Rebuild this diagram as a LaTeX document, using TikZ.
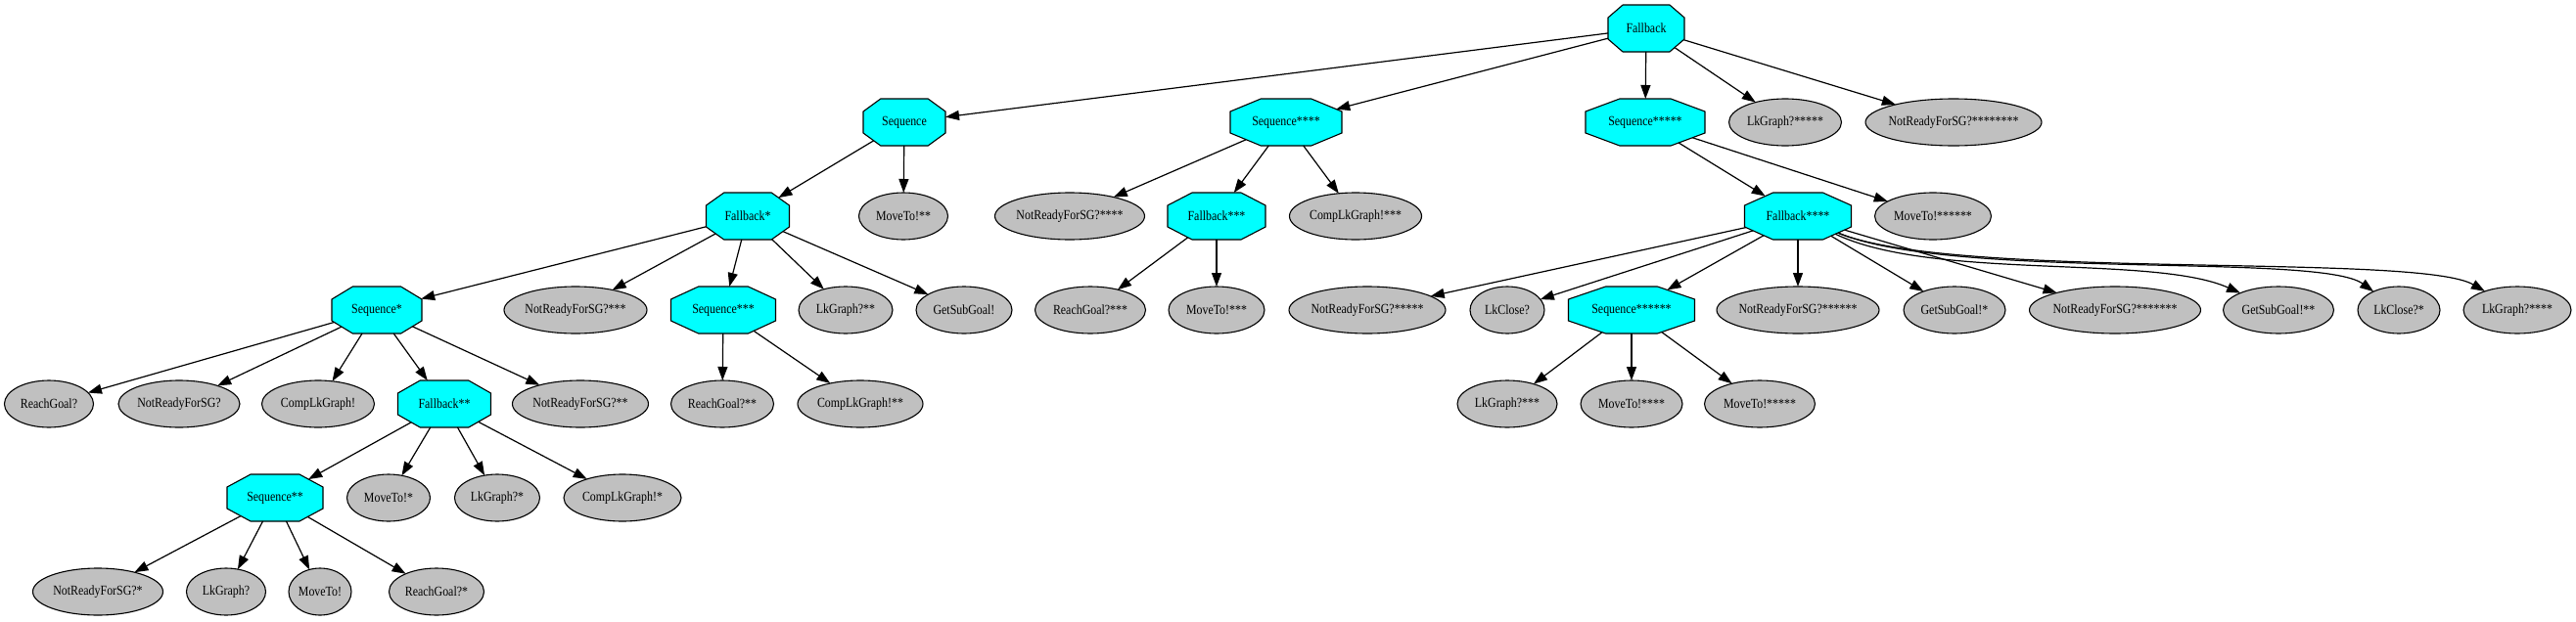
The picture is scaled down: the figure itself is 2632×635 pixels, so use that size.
\documentclass[tikz,border=0pt]{standalone}
\usepackage{fontspec}
\setmainfont{Liberation Serif}[FakeStretch=0.85]
\usetikzlibrary{shapes.geometric,arrows.meta}
\makeatletter
\pgfkeys{/pgf/gvoct cutx/.initial=14pt,/pgf/gvoct cuty/.initial=13pt}
\pgfdeclareshape{gvoct}{%
  \savedanchor\northeast{%
    \pgfmathsetlength\pgf@x{.5*\pgfkeysvalueof{/pgf/minimum width}}%
    \pgfmathsetlength\pgf@y{.5*\pgfkeysvalueof{/pgf/minimum height}}%
  }%
  \savedanchor\cutpt{%
    \pgfmathsetlength\pgf@x{\pgfkeysvalueof{/pgf/gvoct cutx}}%
    \pgfmathsetlength\pgf@y{\pgfkeysvalueof{/pgf/gvoct cuty}}%
  }%
  \anchor{center}{\pgfpointorigin}%
  \anchor{text}{%
    \pgf@x=-.5\wd\pgfnodeparttextbox
    \pgf@y=-.5\ht\pgfnodeparttextbox
    \advance\pgf@y by .5\dp\pgfnodeparttextbox
  }%
  \backgroundpath{%
    \northeast \edef\gvxa{\the\pgf@x}\edef\gvya{\the\pgf@y}%
    \pgf@xa=\pgf@x \pgf@ya=\pgf@y
    \cutpt \advance\pgf@xa by-\pgf@x \advance\pgf@ya by-\pgf@y
    \edef\gvxb{\the\pgf@xa}\edef\gvyb{\the\pgf@ya}%
    \pgfpathmoveto{\pgfqpoint{-\gvxb}{\gvya}}%
    \pgfpathlineto{\pgfqpoint{\gvxb}{\gvya}}%
    \pgfpathlineto{\pgfqpoint{\gvxa}{\gvyb}}%
    \pgfpathlineto{\pgfqpoint{\gvxa}{-\gvyb}}%
    \pgfpathlineto{\pgfqpoint{\gvxb}{-\gvya}}%
    \pgfpathlineto{\pgfqpoint{-\gvxb}{-\gvya}}%
    \pgfpathlineto{\pgfqpoint{-\gvxa}{-\gvyb}}%
    \pgfpathlineto{\pgfqpoint{-\gvxa}{\gvyb}}%
    \pgfpathclose
  }%
  \anchorborder{%
    \edef\gvdx{\strip@pt\pgf@x}\edef\gvdy{\strip@pt\pgf@y}%
    \northeast \edef\gvha{\strip@pt\pgf@x}\edef\gvhb{\strip@pt\pgf@y}%
    \cutpt \edef\gvcx{\strip@pt\pgf@x}\edef\gvcy{\strip@pt\pgf@y}%
    \pgfmathsetmacro\gvX{abs(\gvdx)}%
    \pgfmathsetmacro\gvY{abs(\gvdy)}%
    \pgfmathsetmacro\gvM{max(\gvX,\gvY,0.001)}%
    \pgfmathsetmacro\gvX{\gvX/\gvM}%
    \pgfmathsetmacro\gvY{\gvY/\gvM}%
    \pgfmathsetmacro\gvT{min(\gvha/max(\gvX,0.01),\gvhb/max(\gvY,0.01),(\gvcy*\gvha+\gvcx*\gvhb-\gvcx*\gvcy)/(\gvcy*\gvX+\gvcx*\gvY))}%
    \pgfmathsetmacro\gvSx{\gvdx<0 ? -1 : 1}%
    \pgfmathsetmacro\gvSy{\gvdy<0 ? -1 : 1}%
    \pgfmathsetmacro\gvRx{\gvSx*\gvT*\gvX}%
    \pgfmathsetmacro\gvRy{\gvSy*\gvT*\gvY}%
    \pgf@x=\gvRx pt\relax
    \pgf@y=\gvRy pt\relax
  }%
}
\makeatother
\definecolor{gvcyan}{RGB}{0,255,255}
\definecolor{gvgray}{RGB}{192,192,192}
\tikzset{
  gvtext/.style={font=\fontsize{14pt}{16pt}\selectfont, text=black},
  octnode/.style={shape=gvoct, draw=black, fill=gvcyan, line width=1.1pt,
    inner sep=0pt, outer sep=0pt, minimum height=48pt, gvoct cuty=13pt, gvtext},
  ellnode/.style={shape=ellipse, draw=black, fill=gvgray, line width=1.1pt,
    inner sep=0pt, outer sep=0pt, minimum height=48pt, gvtext},
  gvedge/.style={draw=black, line width=1.2pt, -{Triangle[length=14pt,width=10pt]}}
}
\newcommand\gvO[5]{\node[octnode, minimum width=#4pt, gvoct cutx={0.45*#4-20}] (#1) at (#2,#3) {#5};}
\newcommand\gvE[5]{\node[ellnode, minimum width=#4pt] (#1) at (#2,#3) {\makebox[0pt]{#5}};}
\begin{document}
\begin{tikzpicture}[x=1pt,y=-1pt]
\useasboundingbox (0,0) rectangle (2632,635);
% row 0
\gvO{F0}{1682}{29}{78}{Fallback}
% row 1
\gvO{S0}{924}{125}{84}{Sequence}
\gvO{S4}{1314}{125}{114}{Sequence****}
\gvO{S5}{1681}{125}{122}{Sequence*****}
\gvE{LG5}{1824}{125}{115}{LkGraph?*****}
\gvE{NR8}{1996}{125}{180}{NotReadyForSG?********}
% row 2
\gvO{F1}{764}{221}{85}{Fallback*}
\gvE{MT2}{923}{221}{91}{MoveTo!**}
\gvE{NR4}{1093}{221}{153}{NotReadyForSG?****}
\gvO{F3}{1243}{221}{100}{Fallback***}
\gvE{CL3}{1385}{221}{135}{CompLkGraph!***}
\gvO{F4}{1837}{221}{109}{Fallback****}
\gvE{MT6}{1975}{221}{119}{MoveTo!******}
% row 3
\gvO{S1}{385}{317}{92}{Sequence*}
\gvE{NR3}{588}{317}{146}{NotReadyForSG?***}
\gvO{S3}{739}{317}{107}{Sequence***}
\gvE{LG2}{864}{317}{96}{LkGraph?**}
\gvE{GS0}{985}{317}{98}{GetSubGoal!}
\gvE{RG3}{1114}{317}{113}{ReachGoal?***}
\gvE{MT3}{1243}{317}{98}{MoveTo!***}
\gvE{NR5}{1397}{317}{160}{NotReadyForSG?*****}
\gvE{LC0}{1540}{317}{76}{LkClose?}
\gvO{S6}{1667}{317}{129}{Sequence******}
\gvE{NR6}{1837}{317}{166}{NotReadyForSG?******}
\gvE{GS1}{1997}{317}{104}{GetSubGoal!*}
\gvE{NR7}{2161}{317}{175}{NotReadyForSG?*******}
\gvE{GS2}{2328}{317}{113}{GetSubGoal!**}
\gvE{LC1}{2451}{317}{84}{LkClose?*}
\gvE{LG4}{2572}{317}{110}{LkGraph?****}
% row 4
\gvE{RG0}{50}{413}{91}{ReachGoal?}
\gvE{NR0}{183}{413}{124}{NotReadyForSG?}
\gvE{CL0}{325}{413}{115}{CompLkGraph!}
\gvO{F2}{454}{413}{95}{Fallback**}
\gvE{NR2}{593}{413}{139}{NotReadyForSG?**}
\gvE{RG2}{738}{413}{105}{ReachGoal?**}
\gvE{CL2}{879}{413}{128}{CompLkGraph!**}
\gvE{LG3}{1540}{413}{102}{LkGraph?***}
\gvE{MT4}{1667}{413}{104}{MoveTo!****}
\gvE{MT5}{1798}{413}{113}{MoveTo!*****}
% row 5
\gvO{S2}{281}{509}{98}{Sequence**}
\gvE{MT1}{397}{509}{85}{MoveTo!*}
\gvE{LG1}{508}{509}{87}{LkGraph?*}
\gvE{CL1}{636}{509}{120}{CompLkGraph!*}
% row 6
\gvE{NR1}{100}{605}{133}{NotReadyForSG?*}
\gvE{LG0}{231}{605}{81}{LkGraph?}
\gvE{MT0}{327}{605}{64}{MoveTo!}
\gvE{RG1}{446}{605}{97}{ReachGoal?*}
% edges
\draw[gvedge] (F0) -- (S0);
\draw[gvedge] (F0) -- (S4);
\draw[gvedge] (F0) -- (S5);
\draw[gvedge] (F0) -- (LG5);
\draw[gvedge] (F0) -- (NR8);
\draw[gvedge] (S0) -- (F1);
\draw[gvedge] (S0) -- (MT2);
\draw[gvedge] (F1) -- (S1);
\draw[gvedge] (F1) -- (NR3);
\draw[gvedge] (F1) -- (S3);
\draw[gvedge] (F1) -- (LG2);
\draw[gvedge] (F1) -- (GS0);
\draw[gvedge] (S1) -- (RG0);
\draw[gvedge] (S1) -- (NR0);
\draw[gvedge] (S1) -- (CL0);
\draw[gvedge] (S1) -- (F2);
\draw[gvedge] (S1) -- (NR2);
\draw[gvedge] (F2) -- (S2);
\draw[gvedge] (F2) -- (MT1);
\draw[gvedge] (F2) -- (LG1);
\draw[gvedge] (F2) -- (CL1);
\draw[gvedge] (S2) -- (NR1);
\draw[gvedge] (S2) -- (LG0);
\draw[gvedge] (S2) -- (MT0);
\draw[gvedge] (S2) -- (RG1);
\draw[gvedge] (S3) -- (RG2);
\draw[gvedge] (S3) -- (CL2);
\draw[gvedge] (S4) -- (NR4);
\draw[gvedge] (S4) -- (F3);
\draw[gvedge] (S4) -- (CL3);
\draw[gvedge] (F3) -- (RG3);
\draw[gvedge] (F3) -- (MT3);
\draw[gvedge] (S5) -- (F4);
\draw[gvedge] (S5) -- (MT6);
\draw[gvedge] (F4) -- (NR5);
\draw[gvedge] (F4) -- (LC0);
\draw[gvedge] (F4) -- (S6);
\draw[gvedge] (F4) -- (NR6);
\draw[gvedge] (F4) -- (GS1);
\draw[gvedge] (F4) -- (NR7);
\draw[gvedge] (F4) .. controls (1975,287) and (2200,260) .. (GS2);
\draw[gvedge] (F4) .. controls (1995,287) and (2370,258) .. (LC1);
\draw[gvedge] (F4) .. controls (1995,287) and (2470,258) .. (LG4);
\draw[gvedge] (S6) -- (LG3);
\draw[gvedge] (S6) -- (MT4);
\draw[gvedge] (S6) -- (MT5);
\end{tikzpicture}
\end{document}
